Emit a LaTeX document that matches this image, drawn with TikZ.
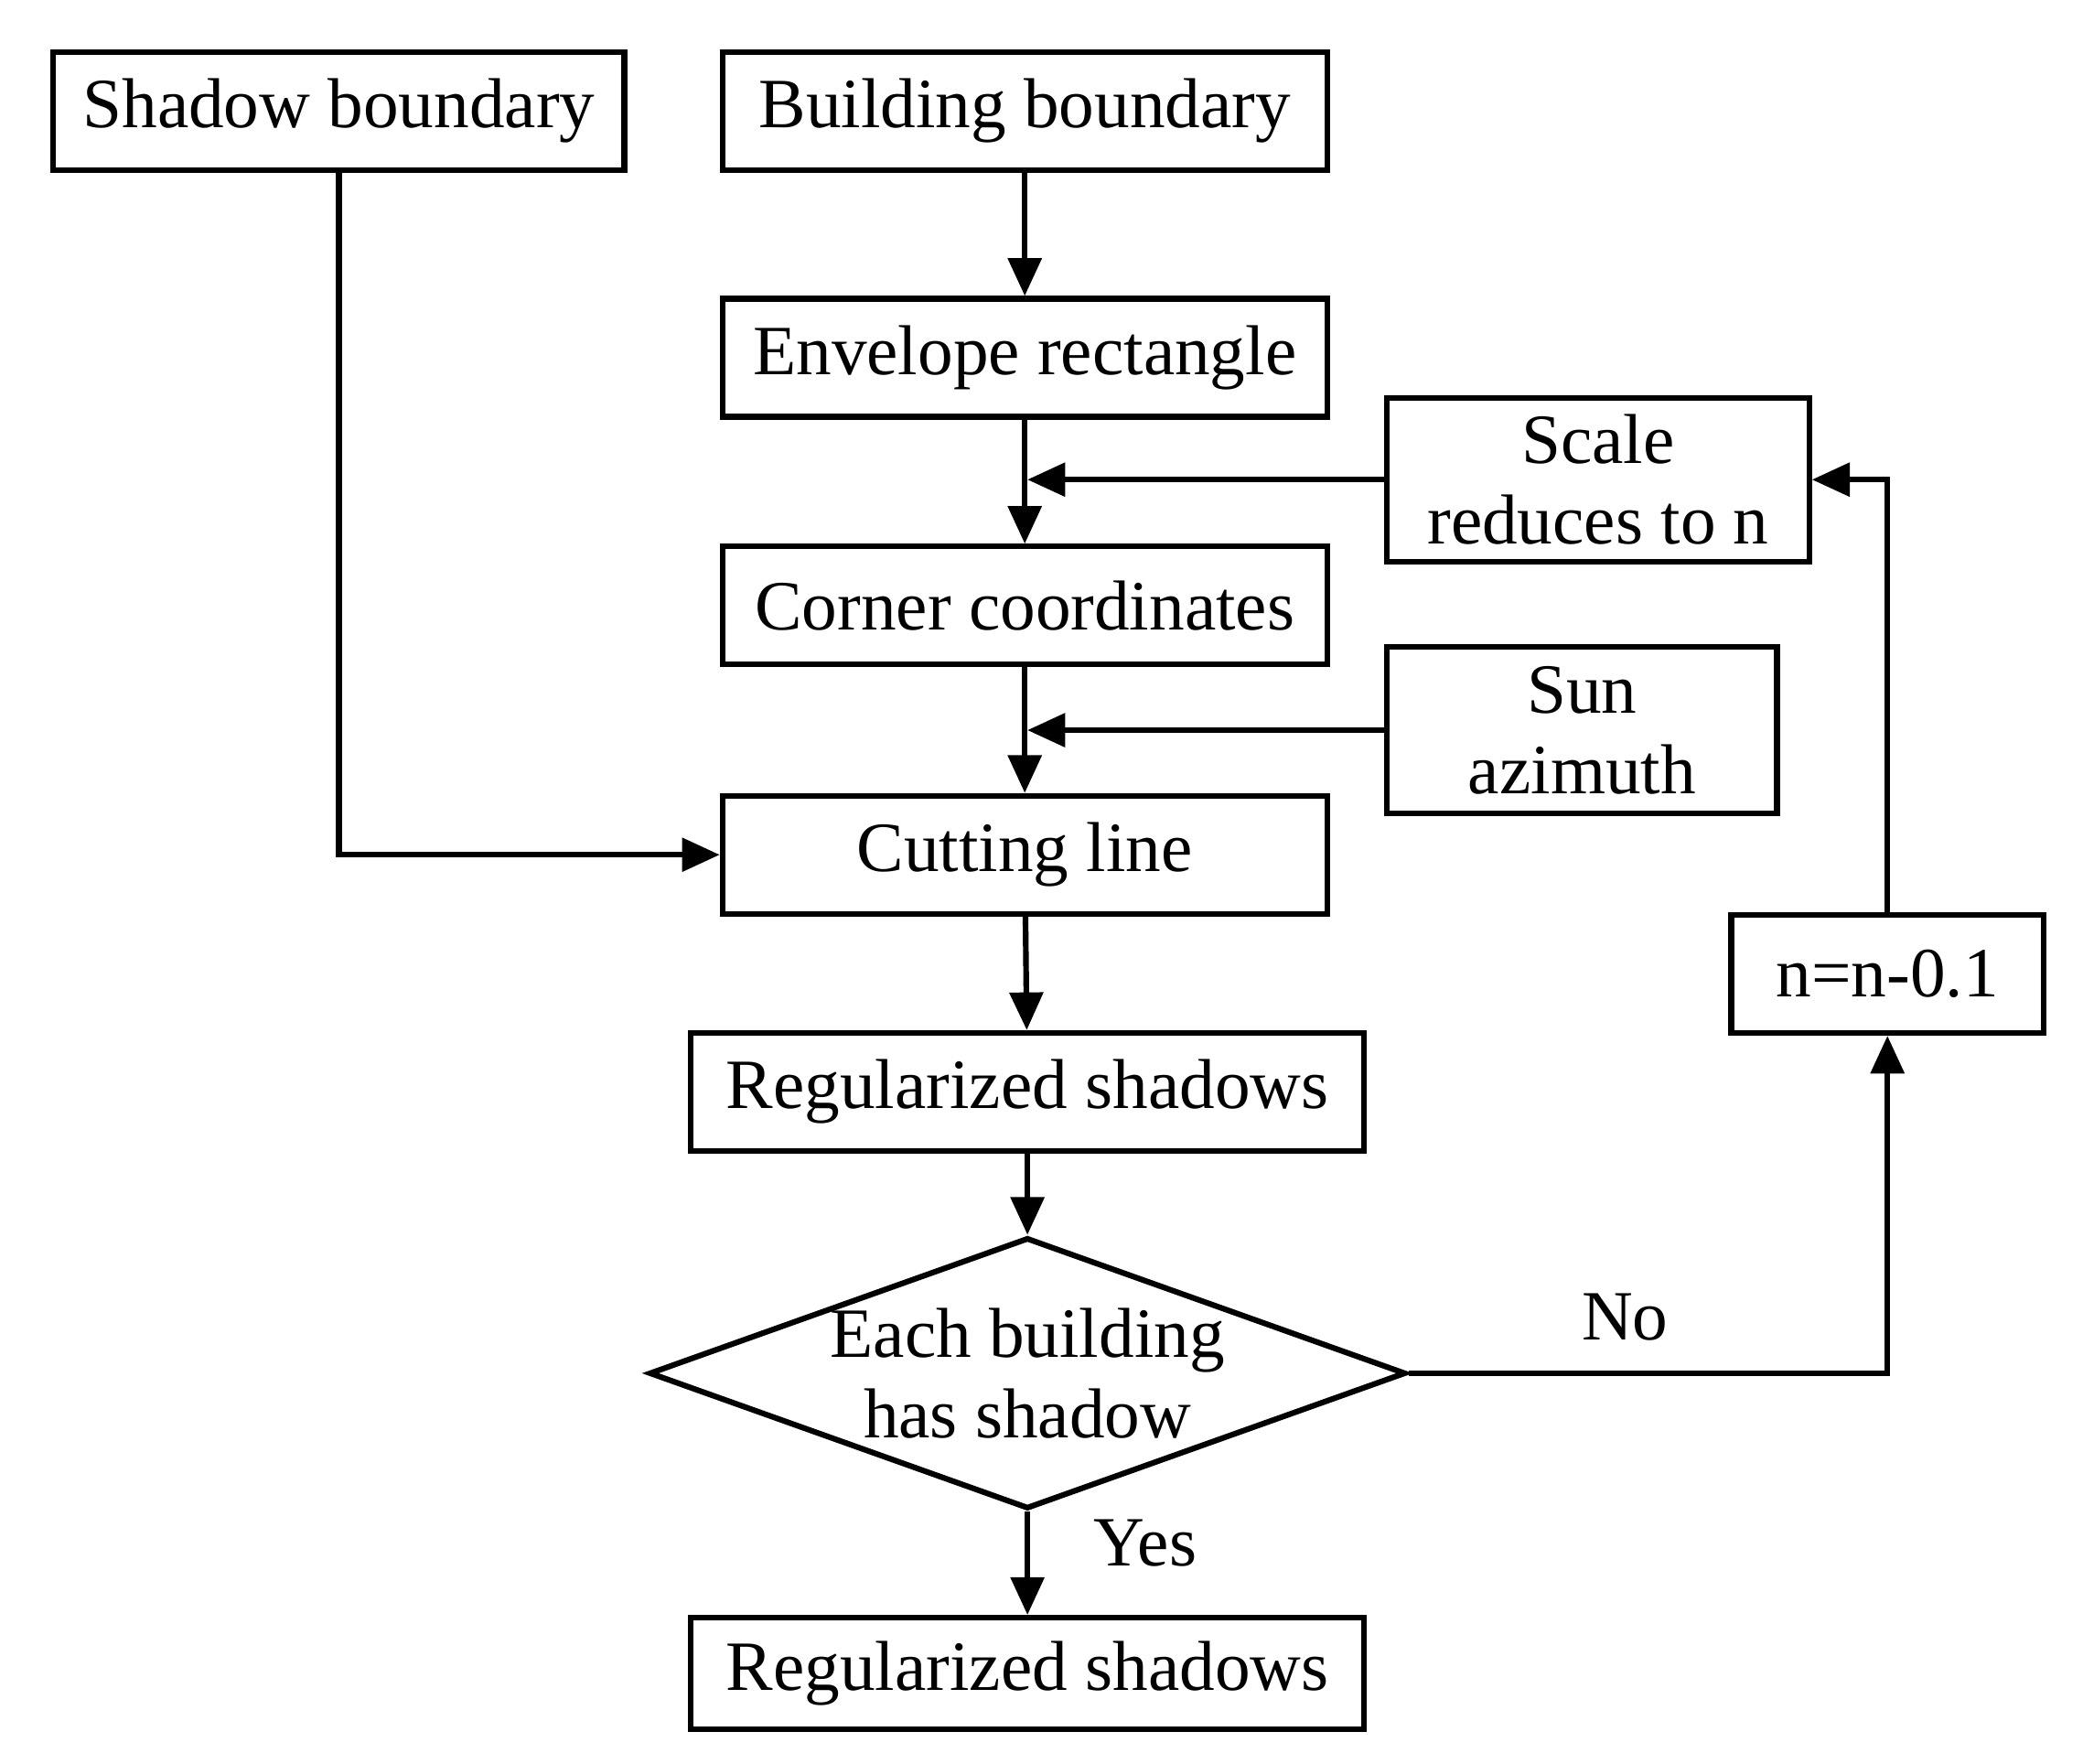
\documentclass[tikz,border=0pt]{standalone}
\usepackage{fontspec}
\setmainfont{Liberation Serif}
\usetikzlibrary{shapes.geometric,arrows.meta}
\begin{document}
\begin{tikzpicture}[x=0.01cm,y=-0.01cm,
  box/.style={draw,line width=1.2pt,minimum width=#1,minimum height=0.88cm,inner sep=0pt,font=\fontsize{15}{17}\selectfont,align=center},
  arr/.style={line width=1.2pt,-{Triangle[length=8pt,width=7pt]}},
  lbl/.style={font=\fontsize{15}{17}\selectfont}]
\useasboundingbox (0,0) rectangle (1555,1316);
\node[box=4.26cm] (sb) at (253,83) {Shadow boundary};
\node[box=4.51cm] (bb) at (765,83) {Building boundary};
\node[box=4.51cm] (er) at (765,267) {Envelope rectangle};
\node[box=4.51cm] (cc) at (765,452) {Corner coordinates};
\node[box=4.51cm] (cl) at (765,638) {Cutting line};
\node[box=5.02cm] (rs) at (767,815) {Regularized shadows};
\node[draw,line width=1.2pt,diamond,aspect=2.79,minimum width=5.35cm,minimum height=1.92cm,inner sep=0pt,font=\fontsize{15}{17}\selectfont,align=center] (d) at (767,1025) {Each building\\has shadow};
\node[box=5.02cm,minimum height=0.83cm] (rs2) at (767,1249) {Regularized shadows};
\node[box=3.15cm,minimum height=1.22cm] (sc) at (1193,358) {Scale\\reduces to n};
\node[box=2.91cm,minimum height=1.24cm] (sa) at (1181,545) {Sun\\azimuth};
\node[box=2.33cm] (nn) at (1409,727) {n=n-0.1};
\coordinate (m1) at (767,358);
\coordinate (m2) at (767,545);
\draw[arr] (bb) -- (er);
\draw[arr] (er) -- (cc);
\draw[arr] (cc) -- (cl);
\draw[arr] (cl) -- (rs);
\draw[arr] (rs) -- (d);
\draw[arr] (d) -- (rs2);
\draw[arr] (sc.west) -- (m1);
\draw[arr] (sa.west) -- (m2);
\draw[arr] (sb.south) |- (cl.west);
\draw[arr] (d.east) -| (nn.south);
\draw[arr] (nn.north) |- (sc.east);
\node[lbl] at (1213,983) {No};
\node[lbl] at (855,1152) {Yes};
\end{tikzpicture}
\end{document}
